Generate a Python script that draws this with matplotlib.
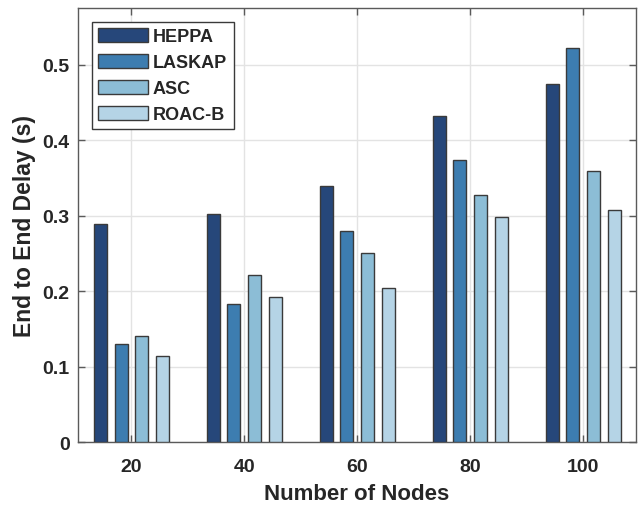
import matplotlib
matplotlib.use("Agg")
import matplotlib.pyplot as plt
import numpy as np

plt.rcParams['font.family'] = ['Liberation Sans', 'DejaVu Sans']

nodes = ['20', '40', '60', '80', '100']
series = ['HEPPA', 'LASKAP', 'ASC', 'ROAC-B']
heppa = [0.289, 0.302, 0.339, 0.432, 0.475]
laskap = [0.130, 0.183, 0.280, 0.374, 0.522]
asc = [0.141, 0.221, 0.251, 0.328, 0.360]
roacb = [0.114, 0.193, 0.204, 0.298, 0.308]
values = [heppa, laskap, asc, roacb]
colors = ['#26477a', '#3d7db0', '#8cbdd6', '#b5d4e6']

fig = plt.figure(figsize=(6.4, 5.06), dpi=100)
ax = fig.add_axes([0.122, 0.124, 0.872, 0.8576])

x = np.arange(1, len(nodes) + 1)
offsets = [-0.272, -0.09, 0.092, 0.274]
width = 0.115
for vals, off, c, name in zip(values, offsets, colors, series):
    ax.bar(x + off, vals, width, color=c, edgecolor='#3a3a3a', linewidth=1.0,
           label=name, zorder=3)

ax.set_xlim(0.53, 5.47)
ax.set_ylim(0, 0.575)
ax.set_xticks(x)
ax.set_xticklabels(nodes)
ax.set_yticks([0, 0.1, 0.2, 0.3, 0.4, 0.5])
ax.set_yticklabels(['0', '0.1', '0.2', '0.3', '0.4', '0.5'])
ax.grid(True, color='#e3e3e3', linewidth=1.0, zorder=0)
ax.set_axisbelow(True)

for s in ax.spines.values():
    s.set_color('#5a5a5a')
    s.set_linewidth(1.0)
ax.tick_params(direction='in', length=5, width=1, colors='#5a5a5a',
               top=True, right=True, labelsize=14, labelcolor='#262626', pad=6)
ax.tick_params(axis='x', pad=11)
for lbl in ax.get_xticklabels() + ax.get_yticklabels():
    lbl.set_fontweight('bold')

ax.set_xlabel('Number of Nodes', fontsize=16, fontweight='bold', color='#262626', labelpad=6)
ax.set_ylabel('End to End Delay (s)', fontsize=16.5, fontweight='bold', color='#262626', labelpad=5)

leg = ax.legend(loc='upper left', prop={'weight': 'bold', 'size': 13},
                handlelength=2.8, handleheight=0.8, handletextpad=0.25,
                labelspacing=0.48, borderpad=0.35, borderaxespad=0.75,
                fancybox=False, framealpha=1, edgecolor='#3a3a3a')
leg.get_frame().set_linewidth(1.0)
for t in leg.get_texts():
    t.set_color('#262626')

fig.savefig('out.png', dpi=100)
